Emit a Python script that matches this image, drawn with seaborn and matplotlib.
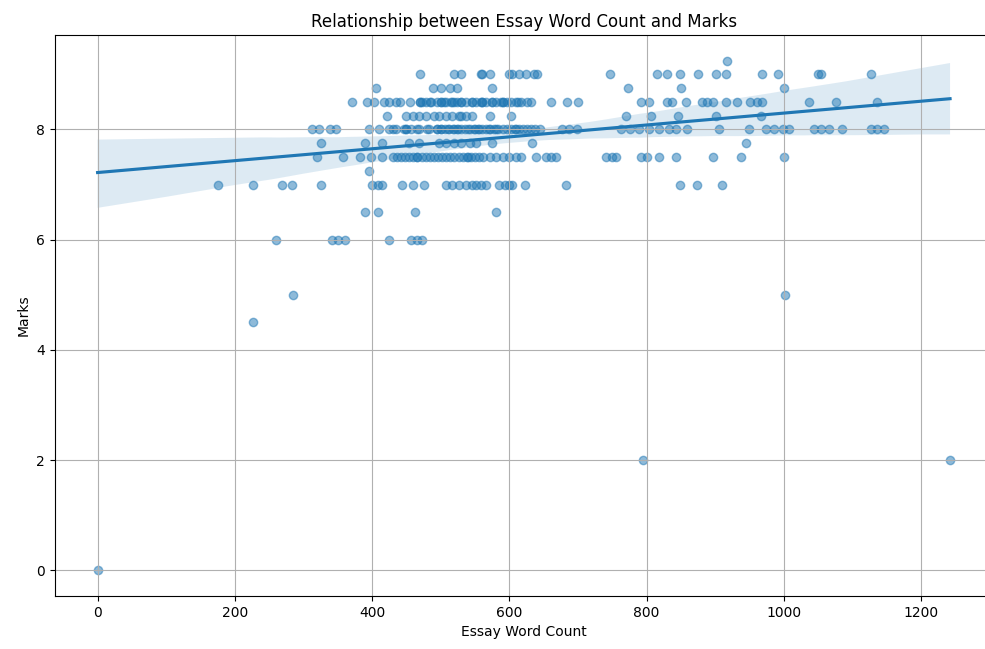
import numpy as np
import pandas as pd
import matplotlib
matplotlib.use("Agg")
import matplotlib.pyplot as plt
import seaborn as sns

# Essay word counts grouped by the mark each essay received
marks_levels = [9.25, 9.0, 8.75, 8.5, 8.25, 8.0, 7.75, 7.5, 7.25, 7.0, 6.5, 6.0, 5.0, 4.5, 2.0, 0.0]

words_925 = [917]
words_900 = [470, 559, 571, 604, 614, 624, 636, 747, 815, 830, 849, 875, 901, 916, 968,
             992, 1049, 1054, 1127, 520, 530, 600, 560, 640]
words_875 = [405, 488, 513, 523, 574, 773, 850, 1000, 500]
words_850 = [371, 393, 403, 418, 435, 472, 479, 486, 494, 501, 508, 516, 523, 530, 537,
             545, 552, 559, 566, 574, 581, 588, 596, 603, 610, 617, 625, 632, 661, 684,
             792, 804, 829, 837, 858, 880, 888, 897, 916, 932, 961, 968, 1037, 1076, 1136,
             505, 560, 590, 612, 425, 440, 455, 470, 485, 500, 515, 530, 545, 560, 575,
             590, 470, 520, 700, 950]
words_825 = [421, 450, 469, 479, 498, 508, 517, 527, 537, 546, 571, 603, 770, 807, 845,
             901, 967, 460, 490, 530]
words_800 = [313, 323, 338, 348, 396, 425, 435, 447, 457, 469, 483, 494, 500, 506, 512,
             518, 524, 530, 536, 542, 548, 554, 560, 566, 572, 578, 584, 590, 596, 602,
             608, 614, 620, 626, 632, 638, 644, 676, 687, 698, 763, 775, 789, 804, 818,
             833, 843, 859, 906, 949, 974, 986, 998, 1008, 1044, 1054, 1066, 1085, 1127,
             1136, 1146, 520, 580, 610, 410, 430, 450, 465, 480, 495, 510, 525, 540, 555,
             570, 450, 500, 550]
words_775 = [326, 389, 414, 454, 469, 498, 508, 520, 530, 542, 552, 574, 633, 945]
words_750 = [320, 357, 382, 399, 415, 430, 436, 442, 448, 454, 460, 466, 472, 478, 484,
             490, 496, 502, 508, 514, 520, 526, 532, 538, 544, 550, 556, 561, 571, 581,
             590, 600, 609, 617, 639, 654, 661, 668, 741, 749, 756, 792, 800, 818, 843,
             896, 938, 1000, 465, 540]
words_725 = [396]
words_700 = [175, 227, 268, 283, 326, 400, 408, 415, 443, 459, 476, 508, 517, 527, 537,
             545, 552, 559, 566, 585, 593, 600, 604, 622, 682, 848, 874, 910]
words_650 = [390, 408, 463, 581]
words_600 = [260, 341, 350, 360, 425, 457, 465, 472]
words_500 = [284, 1002]
words_450 = [227]
words_200 = [795, 1242]
words_000 = [0]

word_groups = [words_925, words_900, words_875, words_850, words_825, words_800,
               words_775, words_750, words_725, words_700, words_650, words_600,
               words_500, words_450, words_200, words_000]

rows = []
for mark, words in zip(marks_levels, word_groups):
    for w in words:
        rows.append({"Essay Word Count": w, "Marks": mark})
df = pd.DataFrame(rows)

fig = plt.figure(figsize=(9.85, 6.49), dpi=100)
ax = fig.add_axes([0.0558, 0.0817, 0.952, 0.8643])

sns.regplot(data=df, x="Essay Word Count", y="Marks", ax=ax,
            scatter_kws={"alpha": 0.5}, seed=0)

ax.set_title("Relationship between Essay Word Count and Marks", fontsize=12)
ax.set_xlabel("Essay Word Count")
ax.set_ylabel("Marks")
ax.grid(True)
for side in ("top", "right", "left", "bottom"):
    ax.spines[side].set_visible(True)
ax.set_xlim(-62.1, 1304.1)
ax.set_ylim(-0.4625, 9.7125)

fig.savefig("out.png", dpi=100)
